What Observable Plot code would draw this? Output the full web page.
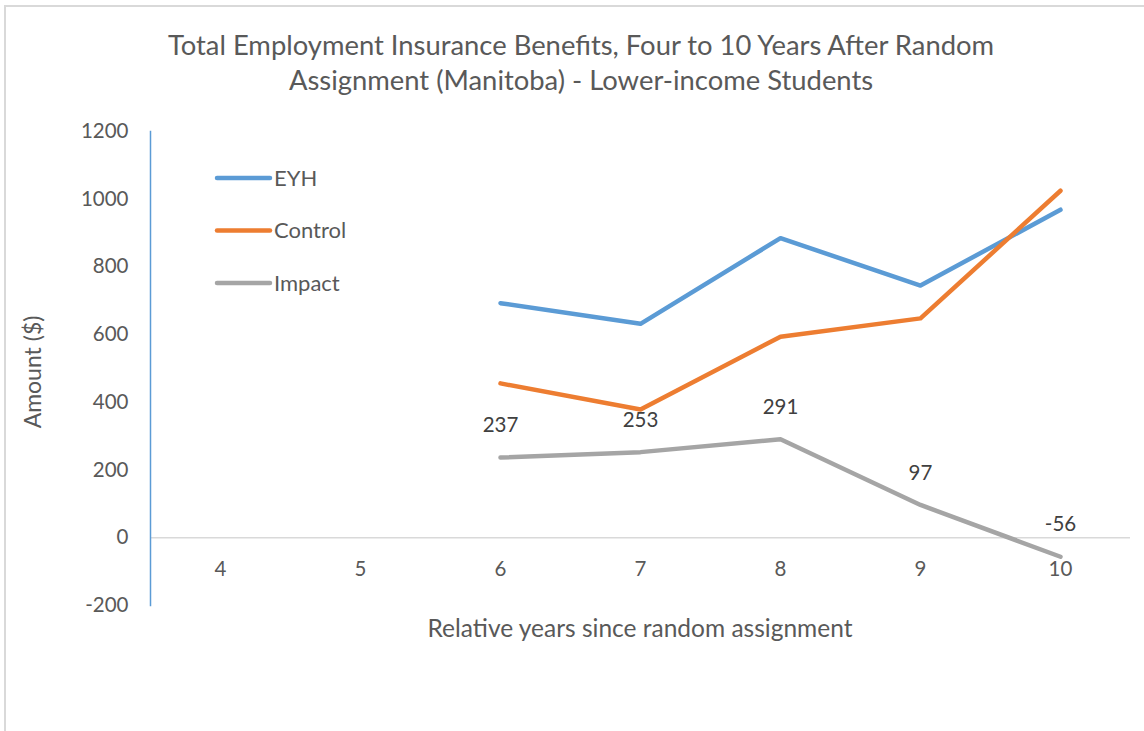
<!DOCTYPE html>
<html>
<head>
<meta charset="utf-8">
<script src="https://cdn.jsdelivr.net/npm/d3@7"></script>
<script src="https://cdn.jsdelivr.net/npm/@observablehq/plot@0.6"></script>
<style>
  html, body { margin: 0; padding: 0; background: #fff; }
  #wrap { position: relative; width: 1144px; height: 731px; font-family: Lato, "Open Sans", sans-serif; color: #595959; overflow: hidden; }
  #border { position: absolute; left: 4px; top: 5px; width: 1160px; height: 740px; border-left: 2px solid #d9d9d9; border-top: 2px solid #d9d9d9; }
  #chart { position: absolute; left: 0; top: 0; }
  #title { position: absolute; left: 0; width: 1162px; top: 27px; text-align: center; font-size: 27.4px; line-height: 35px; }
  #ylabel { position: absolute; left: 32px; top: 372px; transform: translate(-50%, -50%) rotate(-90deg); font-size: 23px; white-space: nowrap; }
  #xlabel { position: absolute; left: 640px; top: 627px; transform: translate(-50%, -50%); font-size: 24.5px; white-space: nowrap; }
  #legend { position: absolute; left: 200px; top: 160px; }
</style>
</head>
<body>
<div id="wrap">
  <div id="border"></div>
  <div id="chart"></div>
  <div id="title">Total Employment Insurance Benefits, Four to 10 Years After Random<br>Assignment (Manitoba) - Lower-income Students</div>
  <div id="ylabel">Amount ($)</div>
  <div id="xlabel">Relative years since random assignment</div>
  <div id="legend"></div>
</div>
<script>
// ---- data ----
const xTicks = [4, 5, 6, 7, 8, 9, 10];
const yTicks = [-200, 0, 200, 400, 600, 800, 1000, 1200];
const years = [6, 7, 8, 9, 10];
const eyh = [693, 632, 885, 745, 969];
const control = [456, 379, 594, 648, 1025];
const impact = [237, 253, 291, 97, -56];
const seriesNames = ["EYH", "Control", "Impact"];
const seriesColors = ["#5B9BD5", "#ED7D31", "#A5A5A5"];

const seriesValues = [eyh, control, impact];
const rows = [];
seriesNames.forEach((name, i) => {
  years.forEach((yr, j) => rows.push({series: name, year: yr, value: seriesValues[i][j]}));
});
const impactRows = rows.filter(d => d.series === "Impact");

const chart = Plot.plot({
  width: 1144,
  height: 731,
  marginTop: 131,
  marginBottom: 126,
  marginLeft: 150,
  marginRight: 14,
  style: {fontFamily: "Lato, 'Open Sans', sans-serif", fontSize: "20px", color: "#595959", background: "transparent"},
  x: {type: "point", domain: xTicks, padding: 0.5, axis: null},
  y: {domain: [-200, 1200], axis: null},
  color: {domain: seriesNames, range: seriesColors},
  marks: [
    Plot.ruleY([0], {stroke: "#D9D9D9", strokeWidth: 1.5}),
    Plot.frame({anchor: "left", stroke: "#5B9BD5", strokeWidth: 1.5}),
    Plot.axisY({ticks: yTicks, tickSize: 0, tickPadding: 22, label: null, fill: "#595959", fontSize: 20.5, tickFormat: d => String(d)}),
    Plot.text(xTicks, {x: d => d, y: () => 0, dy: 32, text: d => String(d), fill: "#595959", fontSize: 20.5}),
    Plot.line(rows, {x: "year", y: "value", z: "series", stroke: "series", strokeWidth: 4.5, strokeLinecap: "round", strokeLinejoin: "round"}),
    Plot.text(impactRows, {x: "year", y: "value", text: d => String(d.value), dy: -32, fill: "#404040", fontSize: 20.5})
  ]
});
document.getElementById("chart").appendChild(chart);

// legend
const lg = d3.select("#legend").append("svg").attr("width", 200).attr("height", 150);
seriesNames.forEach((name, i) => {
  const y = 18 + i * 52.5;
  lg.append("line").attr("x1", 17).attr("x2", 70).attr("y1", y).attr("y2", y)
    .attr("stroke", seriesColors[i]).attr("stroke-width", 4.5).attr("stroke-linecap", "round");
  lg.append("text").attr("x", 74).attr("y", y).attr("dy", "0.35em")
    .attr("font-family", "Lato, 'Open Sans', sans-serif").attr("font-size", 22).attr("fill", "#595959").text(name);
});
</script>
</body>
</html>
